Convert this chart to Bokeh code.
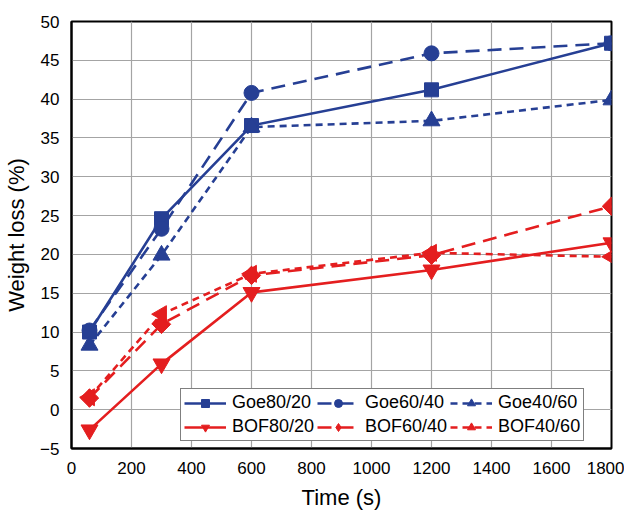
from bokeh.plotting import figure
from bokeh.models import Legend, LegendItem, Range1d, FixedTicker
from bokeh.embed import file_html
from bokeh.resources import INLINE

time_s = [60, 300, 600, 1200, 1800]
goe80_20 = [10.0, 24.6, 36.6, 41.2, 47.2]
goe60_40 = [10.2, 23.3, 40.8, 45.9, 47.2]
goe40_60 = [8.3, 19.9, 36.4, 37.2, 39.9]
bof80_20 = [-2.6, 5.9, 15.1, 18.0, 21.5]
bof60_40 = [1.5, 11.0, 17.3, 19.9, 26.2]
bof40_60 = [1.6, 12.3, 17.5, 20.2, 19.7]
x_ticks = [0, 200, 400, 600, 800, 1000, 1200, 1400, 1600, 1800]
y_ticks = [-5, 0, 5, 10, 15, 20, 25, 30, 35, 40, 45, 50]

BLUE = "#263f94"
RED = "#e41e1f"
FONT = "Liberation Sans"

p = figure(width=624, height=512, output_backend="svg", toolbar_location=None,
           x_range=Range1d(0, 1800), y_range=Range1d(-5, 50),
           min_border_left=71, min_border_right=13, min_border_top=21, min_border_bottom=59)

p.outline_line_color = "black"
p.outline_line_width = 2
p.background_fill_color = "white"
p.border_fill_color = "white"

p.xaxis.ticker = FixedTicker(ticks=x_ticks)
p.yaxis.ticker = FixedTicker(ticks=y_ticks)
for ax in (p.xaxis[0], p.yaxis[0]):
    ax.axis_line_color = "black"
    ax.axis_line_width = 2
    ax.major_tick_line_color = None
    ax.minor_tick_line_color = None
    ax.major_label_text_font = FONT
    ax.major_label_text_font_size = "17px"
    ax.major_label_text_color = "black"
    ax.axis_label_text_font = FONT
    ax.axis_label_text_font_size = "22px"
    ax.axis_label_text_font_style = "normal"
    ax.axis_label_text_color = "black"
p.xaxis.axis_label = "Time (s)"
p.yaxis.axis_label = "Weight loss (%)"
p.xaxis.major_label_standoff = 7
p.yaxis.major_label_standoff = 6
p.xaxis.axis_label_standoff = 8
p.yaxis.axis_label_standoff = 8

p.xgrid.grid_line_color = "#a4a4a4"
p.ygrid.grid_line_color = "#a4a4a4"
p.xgrid.grid_line_width = 1.2
p.ygrid.grid_line_width = 1.2

# name, values, colour, dash, plot marker, size, angle, legend marker, legend size
series = [
    ("Goe80/20", goe80_20, BLUE, "solid", "square", 14, 0.0, None, 0),
    ("Goe60/40", goe60_40, BLUE, "14 8", "circle", 15, 0.0, None, 0),
    ("Goe40/60", goe40_60, BLUE, "7 5", "triangle", 17, 0.0, None, 0),
    ("BOF80/20", bof80_20, RED, "solid", "inverted_triangle", 17, 0.0, None, 0),
    ("BOF60/40", bof60_40, RED, "14 8", "square", 13, 0.7854, "diamond", 18),
    ("BOF40/60", bof40_60, RED, "7 5", "triangle", 17, 1.5708, None, 0),
]

items = []
for name, ys, col, dash, marker, size, ang, lmarker, lsize in series:
    r1 = p.line(time_s, ys, line_color=col, line_width=2.6, line_dash=dash)
    r3 = None
    if lmarker is not None:
        # legend-shaped marker, hidden inside the rotated square drawn on top
        r3 = p.scatter(x=time_s, y=ys, marker=lmarker, size=lsize, fill_color=col,
                       line_color=col)
    r2 = p.scatter(x=time_s, y=ys, marker=marker, size=size, fill_color=col,
                   line_color=col, angle=ang)
    items.append(LegendItem(label=name, renderers=[r1, r3 if r3 is not None else r2]))

legend = Legend(items=items, location=(109, 7), orientation="horizontal", ncols=3)
legend.label_text_font = FONT
legend.label_text_font_size = "18px"
legend.label_text_color = "black"
legend.border_line_color = "black"
legend.border_line_width = 1.5
legend.glyph_width = 42
legend.glyph_height = 20
legend.label_standoff = 6
legend.label_width = 80
legend.spacing = 3
legend.padding = 3
legend.margin = 0
legend.label_height = 20
legend.background_fill_alpha = 1
p.add_layout(legend, "center")

open("out.html", "w").write(file_html(p, INLINE))
